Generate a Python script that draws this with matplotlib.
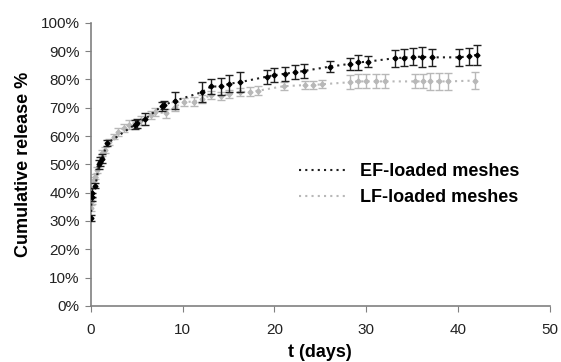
import matplotlib
matplotlib.use("Agg")
import matplotlib.pyplot as plt
from matplotlib.ticker import FuncFormatter

plt.rcParams['font.family'] = ['Liberation Sans', 'DejaVu Sans']

# EF-loaded meshes
ef_t = [0.0, 0.08, 0.17, 0.5, 0.9, 1.0, 1.2, 1.8, 4.8, 5.0, 5.9, 7.7, 8.0, 9.2,
        12.1, 13.1, 14.2, 15.1, 16.2, 19.2, 20.0, 21.1, 22.2, 23.2, 26.0, 28.2,
        29.1, 30.2, 33.1, 34.1, 35.1, 36.1, 37.2, 40.1, 41.2, 42.1]
ef_y = [31, 38.5, 40, 42.5, 50, 51, 52, 57.5, 64, 64.5, 66, 70.5, 71, 72.5,
        75.5, 77.5, 77.5, 78.5, 79, 81, 81.5, 82, 82.5, 83, 84.5, 85.5,
        86, 86.3, 87.5, 87.7, 88, 88, 87.8, 87.8, 88.2, 88.7]
ef_err = [1, 1.5, 1.5, 1, 1.5, 1.5, 1.5, 1, 1.5, 1.5, 2, 1.5, 1.5, 3,
          3.5, 2.5, 3, 3, 3.5, 2.5, 2.5, 2.5, 2.5, 2.5, 2, 2,
          2.5, 2, 3, 3, 3, 3.5, 3, 3, 3, 3.5]

# LF-loaded meshes
lf_t = [0.0, 0.1, 0.3, 0.4, 0.7, 1.2, 1.5, 2.0, 2.5, 3.0, 3.6, 4.2, 5.5, 6.5,
        7.0, 8.2, 9.2, 10.2, 11.2, 12.1, 13.1, 14.2, 15.1, 16.2, 17.3, 18.2,
        21.0, 23.3, 24.2, 25.2, 28.2, 29.1, 30.0, 31.1, 32.1, 35.3, 36.2, 37.0,
        37.9, 38.9, 41.9]
lf_y = [34.5, 37, 44.5, 45.7, 48, 54, 55, 58, 59.8, 61.5, 62.8, 64, 65.5, 67.5,
        68.5, 68, 70.4, 72, 72.2, 73, 74.5, 74.2, 74.8, 75.5, 75.7, 76,
        77.6, 78, 78, 78.3, 79, 79.3, 79.3, 79.3, 79.3, 79.3, 79.3, 79.3,
        79.3, 79.3, 79.6]
lf_err = [1, 1, 1, 1, 1, 1, 1, 1, 1, 1.5, 1.5, 1.5, 1.5, 1.5,
          1.5, 1.5, 1.5, 1.5, 1.5, 1.5, 1.5, 1.5, 1.5, 1.5, 1.5, 1.5,
          1.5, 1.5, 1.5, 1.5, 2.5, 2.5, 2.5, 2.5, 2.5, 2.5, 2.5, 3,
          3, 3, 3]

fig = plt.figure(figsize=(5.61, 3.62), dpi=100)
ax = fig.add_axes([0.162, 0.155, 0.818, 0.782])

lf_c = '#b8b8b8'
ax.errorbar(lf_t, lf_y, yerr=lf_err, fmt='D', color=lf_c, ecolor=lf_c,
            markersize=2.5, capsize=3, elinewidth=1, capthick=1, zorder=2)
ax.plot(lf_t, lf_y, linestyle=(0, (1, 2)), color=lf_c, lw=1.5, zorder=2,
        label='LF-loaded meshes')
ax.errorbar(ef_t, ef_y, yerr=ef_err, fmt='D', color='black', ecolor='#202020',
            markersize=2.5, capsize=3, elinewidth=1, capthick=1, zorder=3)
ax.plot(ef_t, ef_y, linestyle=(0, (1, 2)), color='#202020', lw=1.5, zorder=3,
        label='EF-loaded meshes')

ax.set_xlim(0, 50)
ax.set_ylim(0, 100)
ax.set_xticks([0, 10, 20, 30, 40, 50])
ax.set_yticks(range(0, 101, 10))
ax.yaxis.set_major_formatter(FuncFormatter(lambda v, p: f"{int(v)}%"))

for s in ['top', 'right']:
    ax.spines[s].set_visible(False)
for s in ['left', 'bottom']:
    ax.spines[s].set_color('#808080')
    ax.spines[s].set_linewidth(1.2)
ax.tick_params(axis='both', direction='out', length=4, color='#808080',
               labelsize=11, labelcolor='#222222')
ax.tick_params(axis='x', pad=8)
ax.tick_params(axis='y', pad=4)

ax.set_xlabel('t (days)', fontsize=13, fontweight='bold', labelpad=5)
ax.set_ylabel('Cumulative release %', fontsize=13, fontweight='bold', labelpad=6)

h, l = ax.get_legend_handles_labels()
ax.legend([h[1], h[0]], [l[1], l[0]], loc='upper left',
          bbox_to_anchor=(0.418, 0.562), frameon=False,
          prop={'size': 13, 'weight': 'bold'}, handlelength=2.7,
          handletextpad=0.7, labelspacing=0.5)

fig.savefig('out.png', dpi=100)
